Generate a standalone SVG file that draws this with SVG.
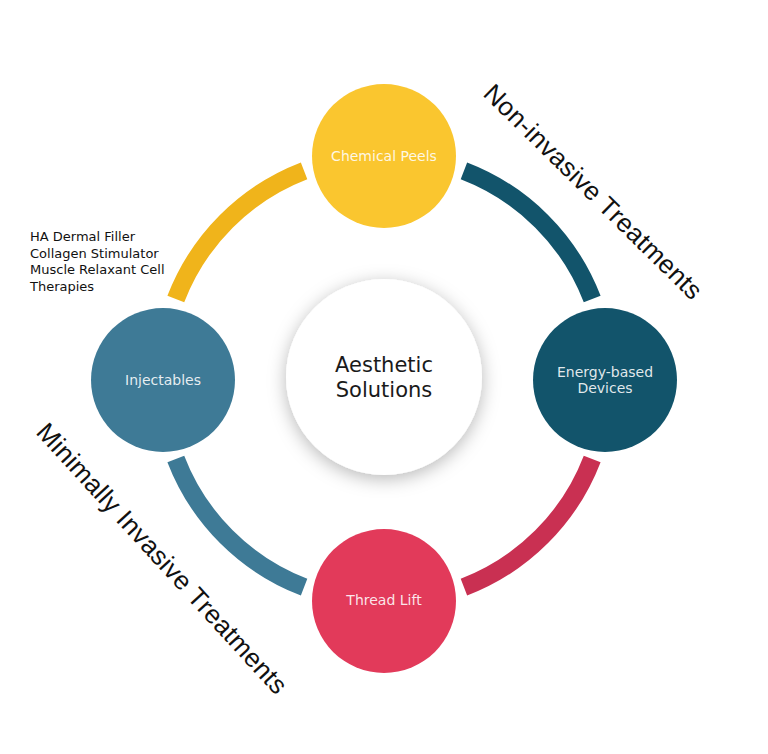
<svg xmlns="http://www.w3.org/2000/svg" width="768" height="754" viewBox="0 0 768 754">
<defs>
<filter id="sh" x="-30%" y="-30%" width="160%" height="160%">
<feDropShadow dx="0" dy="4" stdDeviation="9" flood-color="#000" flood-opacity="0.28"/>
</filter>
<style>
.arc{fill:none;stroke-width:18;stroke-linecap:butt}
.nt{font-family:"DejaVu Sans",sans-serif;font-size:14px;fill:#fff;fill-opacity:0.88;text-anchor:middle}
.ct{font-family:"DejaVu Sans",sans-serif;font-size:21px;fill:#1a1a1a;text-anchor:middle}
.lt{font-family:"DejaVu Sans",sans-serif;font-size:13px;fill:#111}
.rt{font-family:"Liberation Sans",Arial,sans-serif;font-size:26px;letter-spacing:0.3px;fill:#111}
</style>
</defs>
<rect width="768" height="754" fill="#fff"/>
<g id="connectors">
<path class="arc" stroke="#F0B41B" d="M175.81 299.08 A223 223 0 0 1 304.08 170.81"/>
<path class="arc" stroke="#12546B" d="M463.92 170.81 A223 223 0 0 1 592.19 299.08"/>
<path class="arc" stroke="#C93052" d="M592.19 458.92 A223 223 0 0 1 463.92 587.19"/>
<path class="arc" stroke="#3E7A96" d="M304.08 587.19 A223 223 0 0 1 175.81 458.92"/>
</g>
<g id="center">
<circle cx="384" cy="377" r="98" fill="#fff" filter="url(#sh)"/>
<text class="ct" x="384" y="372">Aesthetic</text>
<text class="ct" x="384" y="397">Solutions</text>
</g>
<g id="chemical-peels">
<circle cx="384" cy="156" r="72" fill="#FAC62F"/>
<text class="nt" x="384" y="161">Chemical Peels</text>
</g>
<g id="energy-based">
<circle cx="605" cy="380" r="72" fill="#12546B"/>
<text class="nt" x="605" y="377">Energy-based</text>
<text class="nt" x="605" y="393">Devices</text>
</g>
<g id="thread-lift">
<circle cx="384" cy="601" r="72" fill="#E23A5A"/>
<text class="nt" x="384" y="605">Thread Lift</text>
</g>
<g id="injectables">
<circle cx="163" cy="380" r="72" fill="#3E7A96"/>
<text class="nt" x="163" y="385">Injectables</text>
</g>
<g id="injectables-list">
<text class="lt" x="30" y="241">HA Dermal Filler</text>
<text class="lt" x="30" y="258">Collagen Stimulator</text>
<text class="lt" x="30" y="274">Muscle Relaxant Cell</text>
<text class="lt" x="30" y="291">Therapies</text>
</g>
<g id="label-non-invasive">
<text class="rt" transform="translate(482 95) rotate(44.5)">Non-invasive Treatments</text>
</g>
<g id="label-minimally-invasive">
<text class="rt" transform="translate(35 433) rotate(47.5)">Minimally Invasive Treatments</text>
</g>
</svg>
